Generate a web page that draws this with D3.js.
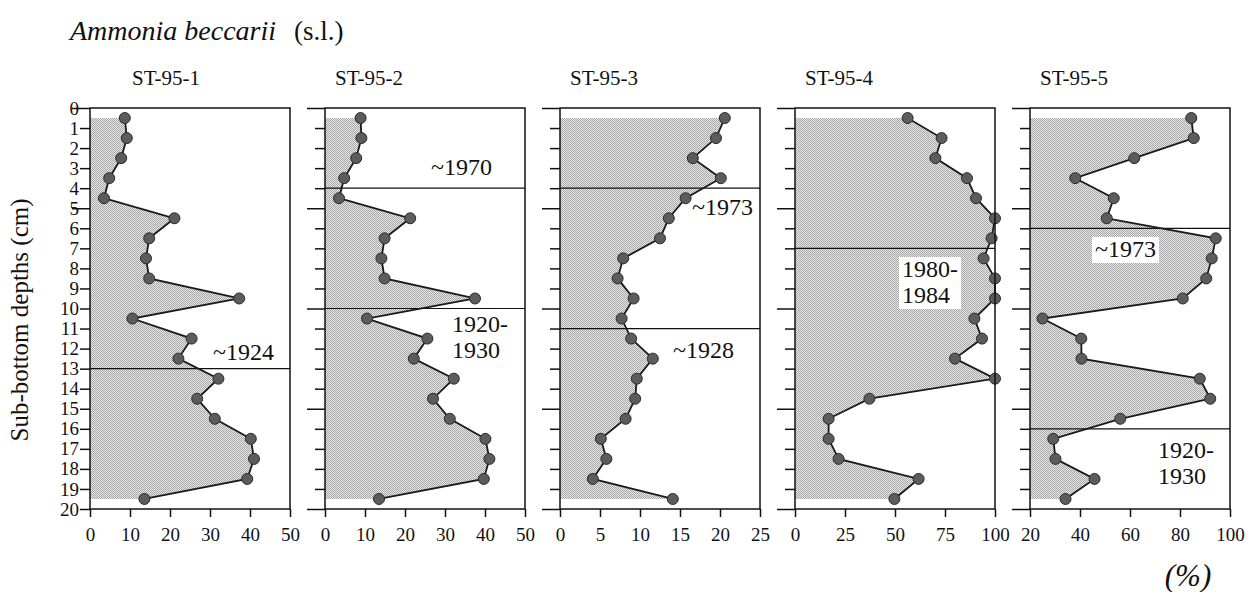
<!DOCTYPE html>
<html>
<head>
<meta charset="utf-8">
<script src="https://cdn.jsdelivr.net/npm/d3@7"></script>
<style>
  body { margin: 0; background: #fff; }
  svg text { font-family: "Liberation Serif", "Times New Roman", "DejaVu Serif", serif; fill: #111; }
</style>
</head>
<body>
<svg id="chart" width="1260" height="592"></svg>
<script>
// sample depths (cm) - mid-point of each 1 cm slice
var depths = [0.5, 1.5, 2.5, 3.5, 4.5, 5.5, 6.5, 7.5, 8.5, 9.5,
              10.5, 11.5, 12.5, 13.5, 14.5, 15.5, 16.5, 17.5, 18.5, 19.5];

var sites = ["ST-95-1", "ST-95-2", "ST-95-3", "ST-95-4", "ST-95-5"];

// Ammonia beccarii (%) per core
var st1 = [8.7, 9.2, 7.8, 4.8, 3.5, 21.1, 14.8, 14.0, 14.8, 37.3,
           10.6, 25.4, 22.1, 32.1, 26.8, 31.2, 40.2, 41.0, 39.3, 13.6];
var st2 = [8.9, 9.1, 7.8, 4.8, 3.5, 21.3, 14.9, 14.1, 14.9, 37.5,
           10.5, 25.6, 22.2, 32.2, 27.0, 31.2, 40.1, 41.1, 39.7, 13.5];
var st3 = [20.6, 19.5, 16.6, 20.1, 15.7, 13.6, 12.5, 7.9, 7.2, 9.2,
           7.7, 8.9, 11.6, 9.6, 9.4, 8.2, 5.1, 5.8, 4.1, 14.1];
var st4 = [56.3, 73.3, 70.2, 86.0, 90.5, 100, 98.3, 94.3, 100, 100,
           89.7, 93.5, 80.0, 100, 37.2, 16.8, 16.8, 21.8, 61.8, 49.7];
var st5 = [84.5, 85.5, 61.7, 38.1, 53.5, 50.7, 94.3, 92.7, 90.5, 81.1,
           25.0, 40.5, 40.6, 87.9, 92.1, 56.1, 29.3, 30.2, 45.8, 34.2];
var series = [st1, st2, st3, st4, st5];

var xDomains = [[0, 50], [0, 50], [0, 25], [0, 100], [20, 100]];
var xTicks = [[0, 10, 20, 30, 40, 50], [0, 10, 20, 30, 40, 50], [0, 5, 10, 15, 20, 25],
              [0, 25, 50, 75, 100], [20, 40, 60, 80, 100]];
var depthTicks = d3.range(0, 21);

// dated horizons: which core, depth (cm), label lines
var horizonPanel = [0, 1, 1, 2, 2, 3, 4, 4];
var horizonDepth = [13, 4, 10, 4, 11, 7, 6, 16];
var horizonText = [["~1924"], ["~1970"], ["1920-", "1930"], ["~1973"], ["~1928"],
                   ["1980-", "1984"], ["~1973"], ["1920-", "1930"]];

// label placement (px from panel left, baseline y) and whether it gets a white box
var labelDx = [123, 106, 127, 132, 113, 107, 65, 128];
var labelY = [360, 175, 332, 215, 358, 277, 257, 458];
var labelBox = [false, false, false, false, false, true, true, false];

var svg = d3.select("#chart");
var panelW = 200, step = 235, left0 = 90;
var serif = "Liberation Serif, Times New Roman, serif";

var defs = svg.append("defs");
var pat = defs.append("pattern")
  .attr("id", "stipple")
  .attr("width", 2).attr("height", 2)
  .attr("patternUnits", "userSpaceOnUse");
pat.append("rect").attr("width", 2).attr("height", 2).attr("fill", "#e6e6e6");
pat.append("rect").attr("x", 0).attr("y", 0).attr("width", 1).attr("height", 1).attr("fill", "#a8a8a8");
pat.append("rect").attr("x", 1).attr("y", 1).attr("width", 1).attr("height", 1).attr("fill", "#a8a8a8");

var y = d3.scaleLinear().domain([0, 20]).range([108, 509]);

// title
svg.append("text")
  .attr("x", 70).attr("y", 40)
  .style("font-style", "italic")
  .style("font-size", "28px")
  .text("Ammonia beccarii");
svg.append("text")
  .attr("x", 294).attr("y", 40)
  .style("font-size", "27px")
  .text("(s.l.)");

// y axis title
svg.append("text")
  .attr("transform", "translate(28,320) rotate(-90)")
  .attr("text-anchor", "middle")
  .style("font-size", "25px")
  .text("Sub-bottom depths (cm)");

// (%) unit
svg.append("text")
  .attr("x", 1188).attr("y", 586)
  .attr("text-anchor", "middle")
  .style("font-style", "italic")
  .style("font-size", "31px")
  .text("(%)");

sites.forEach(function(site, i) {
  var left = left0 + i * step;
  var x = d3.scaleLinear().domain(xDomains[i]).range([left, left + panelW]);
  var vals = series[i];
  var g = svg.append("g");

  // site name
  g.append("text")
    .attr("x", i == 0 ? left + 42 : left + 10)
    .attr("y", 85)
    .style("font-size", "21px")
    .text(site);

  // shaded area from axis to the curve
  var area = d3.area()
    .x0(x(xDomains[i][0]))
    .x1(function(d, j) { return x(vals[j]); })
    .y(function(d) { return y(d); });
  g.append("path")
    .datum(depths)
    .attr("d", area)
    .attr("fill", "url(#stipple)");

  // horizons
  horizonPanel.forEach(function(p, k) {
    if (p != i) return;
    g.append("line")
      .attr("x1", left).attr("x2", left + panelW)
      .attr("y1", y(horizonDepth[k])).attr("y2", y(horizonDepth[k]))
      .attr("stroke", "#111").attr("stroke-width", 1.2);
  });

  // x axis
  var xa = g.append("g")
    .attr("transform", "translate(0," + y(20) + ")")
    .call(d3.axisBottom(x).tickValues(xTicks[i]).tickSize(8).tickPadding(11));
  xa.select(".domain").remove();
  xa.selectAll(".tick line").attr("stroke", "#111").attr("stroke-width", 1.5);
  xa.selectAll(".tick text")
    .style("font-family", serif)
    .style("font-size", "19px").attr("fill", "#111");

  // y axis (labels only on first core)
  var ya = g.append("g")
    .attr("transform", "translate(" + left + ",0)")
    .call(d3.axisLeft(y).tickValues(depthTicks).tickSize(10).tickPadding(1)
      .tickFormat(i == 0 ? d3.format("d") : ""));
  ya.select(".domain").remove();
  ya.selectAll(".tick line")
    .attr("stroke", "#111").attr("stroke-width", 1.5)
    .attr("x2", function(d) {
      if (d % 5 != 0) return -10;
      if (i == 0 && d >= 10) return -10;
      return -18;
    });
  ya.selectAll(".tick text")
    .style("font-family", serif)
    .style("font-size", "19px").attr("fill", "#111");

  // horizon labels
  horizonPanel.forEach(function(p, k) {
    if (p != i) return;
    var lines = horizonText[k];
    var lx = left + labelDx[k];
    var t = g.append("text")
      .attr("x", lx).attr("y", labelY[k])
      .style("font-size", "24px");
    lines.forEach(function(s, m) {
      t.append("tspan").attr("x", lx).attr("dy", m == 0 ? 0 : 26).text(s);
    });
    if (labelBox[k]) {
      var bb = t.node().getBBox();
      g.insert("rect", function() { return t.node(); })
        .attr("x", bb.x - 3).attr("y", bb.y + 1)
        .attr("width", bb.width + 6).attr("height", bb.height)
        .attr("fill", "#fff");
    }
  });

  // curve and points
  var line = d3.line()
    .x(function(d, j) { return x(vals[j]); })
    .y(function(d) { return y(d); });
  g.append("path")
    .datum(depths)
    .attr("d", line)
    .attr("fill", "none")
    .attr("stroke", "#1a1a1a")
    .attr("stroke-width", 1.8);
  g.selectAll("circle")
    .data(depths)
    .enter()
    .append("circle")
    .attr("cx", function(d, j) { return x(vals[j]); })
    .attr("cy", function(d) { return y(d); })
    .attr("r", 5.5)
    .attr("fill", "#5c5c5c")
    .attr("stroke", "#2a2a2a")
    .attr("stroke-width", 1);

  // frame
  g.append("rect")
    .attr("x", left).attr("y", y(0))
    .attr("width", panelW).attr("height", y(20) - y(0))
    .attr("fill", "none")
    .attr("stroke", "#111")
    .attr("stroke-width", 1.5);
});
</script>
</body>
</html>
